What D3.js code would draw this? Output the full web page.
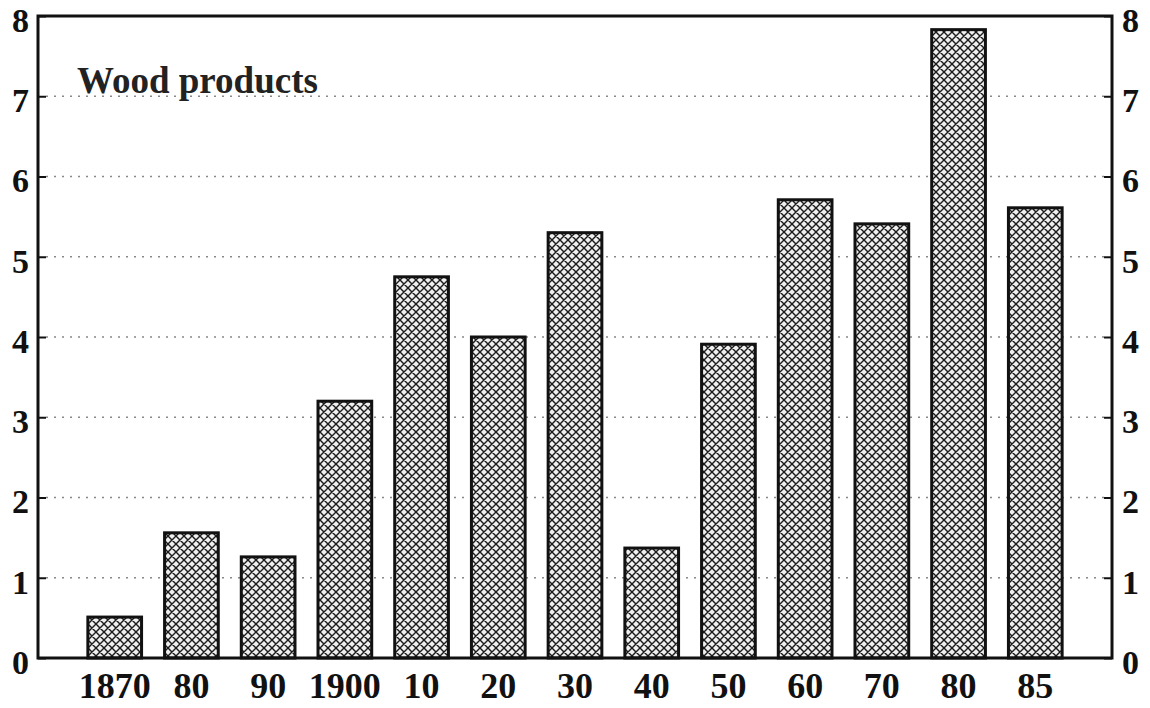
<!DOCTYPE html>
<html><head><meta charset="utf-8">
<script src="https://cdn.jsdelivr.net/npm/d3@7/dist/d3.min.js"></script>
<style>body{margin:0;background:#fff;} svg{display:block;}</style>
</head><body>
<svg id="chart" width="1150" height="708"></svg>
<script>
const categories = ["1870","80","90","1900","10","20","30","40","50","60","70","80 ","85"];
const labels = ["1870","80","90","1900","10","20","30","40","50","60","70","80","85"];
const values = [0.51,1.56,1.26,3.2,4.75,4.0,5.3,1.37,3.91,5.71,5.41,7.83,5.61];
const yTicks = [0,1,2,3,4,5,6,7,8];
const title = "Wood products";

const svg = d3.select("#chart");
const L = 38, R = 1112, T = 16, B = 658;
const x = d3.scaleBand().domain(categories).range([L, R]).paddingInner(0.3).paddingOuter(0.65);
const y = d3.scaleLinear().domain([0, 8]).range([B, T]);

const defs = svg.append("defs");
const pat = defs.append("pattern").attr("id","hatch").attr("patternUnits","userSpaceOnUse")
  .attr("width",8).attr("height",8);
pat.append("rect").attr("width",8).attr("height",8).attr("fill","#efefef");
pat.append("path").attr("d","M0,0L8,8M8,0L0,8M-1,7L1,9M7,-1L9,1M-1,1L1,-1M7,9L9,7")
  .attr("stroke","#1a1a1a").attr("stroke-width",1.4);

const font = "'Liberation Serif','Times New Roman',serif";

// gridlines
svg.append("g").selectAll("line").data(yTicks.filter(d => d > 0 && d < 8)).join("line")
  .attr("x1", L + 8).attr("x2", R - 8)
  .attr("y1", d => y(d)).attr("y2", d => y(d))
  .attr("stroke", "#888").attr("stroke-width", 1.5).attr("stroke-dasharray", "2,6");

// bars
svg.append("g").selectAll("rect").data(values).join("rect")
  .attr("x", (d, i) => x(categories[i]))
  .attr("width", x.bandwidth())
  .attr("y", d => y(d))
  .attr("height", d => y(0) - y(d))
  .attr("fill", "url(#hatch)")
  .attr("stroke", "#111").attr("stroke-width", 3);

// frame
svg.append("rect").attr("x", L).attr("y", T).attr("width", R - L).attr("height", B - T)
  .attr("fill", "none").attr("stroke", "#111").attr("stroke-width", 3);

// axes
const leftAxis = d3.axisLeft(y).tickValues(yTicks).tickSize(-8).tickPadding(9).tickFormat(d3.format("d"));
const gl = svg.append("g").attr("transform", `translate(${L},0)`).call(leftAxis);
const rightAxis = d3.axisRight(y).tickValues(yTicks).tickSize(-8).tickPadding(10).tickFormat(d3.format("d"));
const gr = svg.append("g").attr("transform", `translate(${R},0)`).call(rightAxis);
[gl, gr].forEach(g => {
  g.select(".domain").remove();
  g.selectAll(".tick line").attr("stroke", "#111").attr("stroke-width", 2);
  g.selectAll(".tick text").attr("font-family", font).attr("font-weight", "bold")
    .attr("font-size", 34).attr("fill", "#111").attr("dy", "0.45em");
});

const bottomAxis = d3.axisBottom(x).tickSize(0).tickPadding(14).tickFormat((d, i) => labels[i]);
const gb = svg.append("g").attr("transform", `translate(0,${B})`).call(bottomAxis);
gb.select(".domain").remove();
gb.selectAll(".tick text").attr("font-family", font).attr("font-weight", "bold")
  .attr("font-size", 36).attr("fill", "#111");

svg.append("text").attr("x", 77).attr("y", 93).text(title)
  .attr("font-family", font).attr("font-weight", "bold").attr("font-size", 37).attr("fill", "#222");
</script>
</body></html>
